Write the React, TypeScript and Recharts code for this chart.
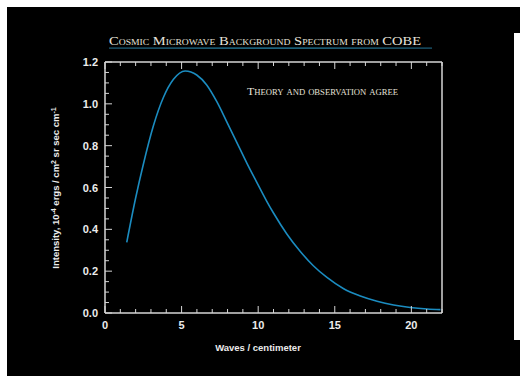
import React from 'react';
import { Line, LineChart, XAxis, YAxis } from 'recharts';

// wave number (cm^-1) and intensity (1e-4 ergs / cm^2 sr sec cm^-1)
const waveNumbers = [
  1.42, 2.0, 2.5, 3.16, 3.81, 4.47, 5.23, 5.99, 6.64, 7.3, 7.95, 8.61, 9.26, 9.91,
  10.57, 11.0, 11.87, 12.75, 13.6, 14.49, 15.58, 16.67, 17.76, 18.84, 19.93, 21.03, 21.9,
];
const intensity = [
  0.338, 0.55, 0.71, 0.895, 1.03, 1.117, 1.157, 1.138, 1.09, 1.01, 0.914, 0.815, 0.717,
  0.625, 0.533, 0.478, 0.378, 0.294, 0.226, 0.17, 0.116, 0.081, 0.056, 0.038, 0.026, 0.019,
  0.016,
];

const xTicks = Array.from({ length: 23 }, (_, i) => i);
const yTicks = Array.from({ length: 25 }, (_, i) => +(i * 0.05).toFixed(2));
const xLabels = [0, 5, 10, 15, 20];
const yLabels = [0, 0.2, 0.4, 0.6, 0.8, 1.0, 1.2];

const data = waveNumbers.map((w, i) => ({ w, v: intensity[i] }));

const FRAME = '#d6d6d6';
const TEXT = '#ececec';
const CURVE = '#1b8cc0';
const SANS = 'Liberation Sans, Arial, sans-serif';
const SERIF = 'Liberation Serif, Times New Roman, serif';

const isMajorY = (v: number) => yLabels.some((l) => Math.abs(l - v) < 1e-6);

function BottomTick({ x, y, payload }: any) {
  const v = payload.value as number;
  const major = v % 5 === 0;
  return (
    <g>
      <line x1={x} x2={x} y1={y} y2={y - (major ? 7 : 4)} stroke={FRAME} strokeWidth={1} />
      {xLabels.includes(v) && (
        <text x={x} y={y + 16} textAnchor="middle" fill={TEXT} fontSize={11} fontWeight="bold" fontFamily={SANS}>
          {v}
        </text>
      )}
    </g>
  );
}

function TopTick({ x, y, payload }: any) {
  const major = (payload.value as number) % 5 === 0;
  return <line x1={x} x2={x} y1={y} y2={y + (major ? 7 : 4)} stroke={FRAME} strokeWidth={1} />;
}

function LeftTick({ x, y, payload }: any) {
  const v = payload.value as number;
  const major = isMajorY(v);
  return (
    <g>
      <line x1={x} x2={x + (major ? 7 : 4)} y1={y} y2={y} stroke={FRAME} strokeWidth={1} />
      {major && (
        <text x={x - 7} y={y + 4} textAnchor="end" fill={TEXT} fontSize={11} fontWeight="bold" fontFamily={SANS}>
          {v.toFixed(1)}
        </text>
      )}
    </g>
  );
}

function RightTick({ x, y, payload }: any) {
  const major = isMajorY(payload.value as number);
  return <line x1={x} x2={x - (major ? 7 : 4)} y1={y} y2={y} stroke={FRAME} strokeWidth={1} />;
}

export default function App() {
  return (
    <div style={{ position: 'fixed', left: 0, top: 0, width: 520, height: 376, background: '#fff' }}>
      <div style={{ position: 'absolute', left: 7, top: 7, width: 513, height: 369, background: '#000' }}>
        <LineChart
          width={513}
          height={369}
          data={data}
          margin={{ top: 45, right: 68, bottom: 33, left: 58 }}
        >
          <XAxis
            dataKey="w"
            type="number"
            domain={[0, 22]}
            ticks={xTicks}
            interval={0}
            height={30}
            tickSize={0}
            tickMargin={0}
            tickLine={false}
            axisLine={{ stroke: FRAME, strokeWidth: 1.5 }}
            tick={<BottomTick />}
          />
          <XAxis
            xAxisId="top"
            orientation="top"
            dataKey="w"
            type="number"
            domain={[0, 22]}
            ticks={xTicks}
            interval={0}
            height={10}
            tickSize={0}
            tickMargin={0}
            tickLine={false}
            axisLine={{ stroke: FRAME, strokeWidth: 1.5 }}
            tick={<TopTick />}
          />
          <YAxis
            type="number"
            domain={[0, 1.2]}
            ticks={yTicks}
            interval={0}
            width={40}
            tickSize={0}
            tickMargin={0}
            tickLine={false}
            axisLine={{ stroke: FRAME, strokeWidth: 1.5 }}
            tick={<LeftTick />}
          />
          <YAxis
            yAxisId="right"
            orientation="right"
            type="number"
            domain={[0, 1.2]}
            ticks={yTicks}
            interval={0}
            width={10}
            tickSize={0}
            tickMargin={0}
            tickLine={false}
            axisLine={{ stroke: FRAME, strokeWidth: 1.5 }}
            tick={<RightTick />}
          />
          <Line
            dataKey="v"
            type="monotone"
            stroke={CURVE}
            strokeWidth={1.6}
            dot={false}
            isAnimationActive={false}
          />
        </LineChart>
        <svg
          width={513}
          height={369}
          style={{ position: 'absolute', left: 0, top: 0, pointerEvents: 'none' }}
        >
          <defs>
            <linearGradient id="rule" x1="0" x2="1" y1="0" y2="0">
              <stop offset="0" stopColor="#1d5f7a" />
              <stop offset="0.5" stopColor="#2a8fb5" />
              <stop offset="1" stopColor="#1d5f7a" />
            </linearGradient>
          </defs>
          <text
            x={258}
            y={37.5}
            textAnchor="middle"
            fill="#e6e2da"
            fontSize={13.5}
            fontFamily={SERIF}
            style={{ fontVariant: 'small-caps' }}
            textLength={312}
            lengthAdjust="spacingAndGlyphs"
          >
            Cosmic Microwave Background Spectrum from COBE
          </text>
          <rect x={102} y={40.5} width={323} height={1.2} fill="url(#rule)" />
          <text
            x={240}
            y={88}
            fill="#e6e2da"
            fontSize={11}
            fontFamily={SERIF}
            style={{ fontVariant: 'small-caps' }}
            textLength={151}
            lengthAdjust="spacingAndGlyphs"
          >
            Theory and observation agree
          </text>
          <text x={251} y={344} textAnchor="middle" fill={TEXT} fontSize={9.5} fontWeight="bold" fontFamily={SANS}>
            Waves / centimeter
          </text>
          <text
            transform="translate(52 181) rotate(-90)"
            textAnchor="middle"
            fill={TEXT}
            fontSize={9.5}
            fontWeight="bold"
            fontFamily={SANS}
          >
            Intensity, 10
            <tspan dy={-3.5} fontSize={7}>-4</tspan>
            <tspan dy={3.5}> ergs / cm</tspan>
            <tspan dy={-3.5} fontSize={7}>2</tspan>
            <tspan dy={3.5}> sr sec cm</tspan>
            <tspan dy={-3.5} fontSize={7}>-1</tspan>
          </text>
        </svg>
      </div>
      <div style={{ position: 'absolute', left: 514, top: 33, width: 6, height: 307, background: '#fff' }} />
    </div>
  );
}
